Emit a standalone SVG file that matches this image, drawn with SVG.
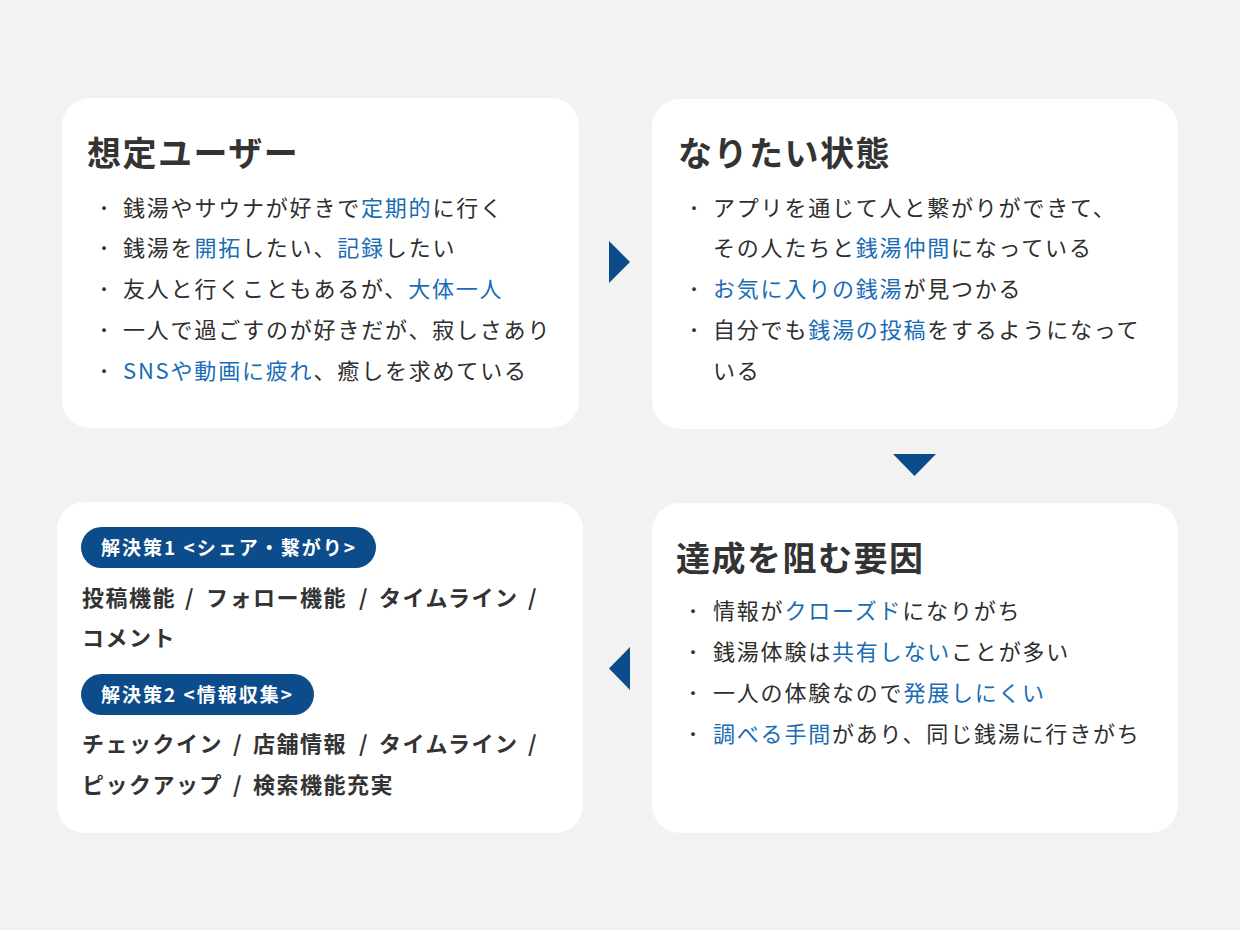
<svg xmlns="http://www.w3.org/2000/svg" width="1240" height="930" viewBox="0 0 1240 930">
<style>
  .box { fill: #ffffff; }
  .h { font-family: "Noto Sans CJK JP", "Noto Sans", sans-serif; font-size: 34px; font-weight: 700; fill: #333333; letter-spacing: 1.5px; }
  .b { font-family: "Noto Sans CJK JP", "Noto Sans", sans-serif; font-size: 22px; font-weight: 400; fill: #2e2e2e; letter-spacing: 1.8px; }
  .dot { font-family: "Noto Sans CJK JP", sans-serif; font-size: 16px; font-weight: 500; fill: #333333; }
  .hl { fill: #1a6cb5; }
  .f { font-family: "Noto Sans CJK JP", "Noto Sans", sans-serif; font-size: 22px; font-weight: 700; fill: #333333; letter-spacing: 1.5px; }
  .pill { fill: #0d4c8a; }
  .pt { font-family: "Noto Sans CJK JP", "Noto Sans", sans-serif; font-size: 19px; font-weight: 700; fill: #ffffff; letter-spacing: 2px; }
  .arrow { fill: #0d4c8a; }
</style>
<rect x="0" y="0" width="1240" height="930" fill="#f2f2f2"/>

<g id="node-users">
  <rect class="box" x="62" y="98" width="517" height="330" rx="28"/>
  <text class="h" x="87" y="166">想定ユーザー</text>
  <g class="dot"><text x="96" y="214">・</text><text x="96" y="254">・</text><text x="96" y="295">・</text><text x="96" y="336">・</text><text x="96" y="377">・</text></g>
  <text class="b" x="123" y="216">銭湯やサウナが好きで<tspan class="hl">定期的</tspan>に行く</text>
  <text class="b" x="123" y="256">銭湯を<tspan class="hl">開拓</tspan>したい、<tspan class="hl">記録</tspan>したい</text>
  <text class="b" x="123" y="297">友人と行くこともあるが、<tspan class="hl">大体一人</tspan></text>
  <text class="b" x="123" y="338">一人で過ごすのが好きだが、寂しさあり</text>
  <text class="b" x="123" y="379"><tspan class="hl">SNSや動画に疲れ</tspan>、癒しを求めている</text>
</g>

<g id="node-goal">
  <rect class="box" x="652" y="99" width="526" height="330" rx="28"/>
  <text class="h" x="678" y="166">なりたい状態</text>
  <g class="dot"><text x="686" y="214">・</text><text x="686" y="295">・</text><text x="686" y="336">・</text></g>
  <text class="b" x="713" y="216">アプリを通じて人と繋がりができて、</text>
  <text class="b" x="713" y="256">その人たちと<tspan class="hl">銭湯仲間</tspan>になっている</text>
  <text class="b" x="713" y="297"><tspan class="hl">お気に入りの銭湯</tspan>が見つかる</text>
  <text class="b" x="713" y="338">自分でも<tspan class="hl">銭湯の投稿</tspan>をするようになって</text>
  <text class="b" x="713" y="379">いる</text>
</g>

<g id="node-barriers">
  <rect class="box" x="652" y="503" width="526" height="330" rx="28"/>
  <text class="h" x="676" y="571">達成を阻む要因</text>
  <g class="dot"><text x="685" y="617">・</text><text x="685" y="658">・</text><text x="685" y="699">・</text><text x="685" y="740">・</text></g>
  <text class="b" x="713" y="619">情報が<tspan class="hl">クローズド</tspan>になりがち</text>
  <text class="b" x="713" y="660">銭湯体験は<tspan class="hl">共有しない</tspan>ことが多い</text>
  <text class="b" x="713" y="701">一人の体験なので<tspan class="hl">発展しにくい</tspan></text>
  <text class="b" x="713" y="742"><tspan class="hl">調べる手間</tspan>があり、同じ銭湯に行きがち</text>
</g>

<g id="node-solutions">
  <rect class="box" x="57" y="502" width="526" height="331" rx="28"/>
  <rect class="pill" x="81" y="527" width="295" height="41" rx="20.5"/>
  <text class="pt" x="101" y="555">解決策1 &lt;シェア・繋がり&gt;</text>
  <text class="f" y="606"><tspan x="82">投稿機能</tspan><tspan x="185">/</tspan><tspan x="206">フォロー機能</tspan><tspan x="359">/</tspan><tspan x="379">タイムライン</tspan><tspan x="528">/</tspan></text>
  <text class="f" x="82" y="646">コメント</text>
  <rect class="pill" x="81" y="674" width="233" height="41" rx="20.5"/>
  <text class="pt" x="101" y="702">解決策2 &lt;情報収集&gt;</text>
  <text class="f" y="752"><tspan x="82">チェックイン</tspan><tspan x="233">/</tspan><tspan x="253">店舗情報</tspan><tspan x="359">/</tspan><tspan x="379">タイムライン</tspan><tspan x="528">/</tspan></text>
  <text class="f" y="793"><tspan x="82">ピックアップ</tspan><tspan x="233">/</tspan><tspan x="253">検索機能充実</tspan></text>
</g>

<g id="connectors">
  <polygon class="arrow" points="609,241 630,262 609,283"/>
  <polygon class="arrow" points="893,454 936,454 914.5,476"/>
  <polygon class="arrow" points="630,647 630,690 609,668.5"/>
</g>
</svg>
